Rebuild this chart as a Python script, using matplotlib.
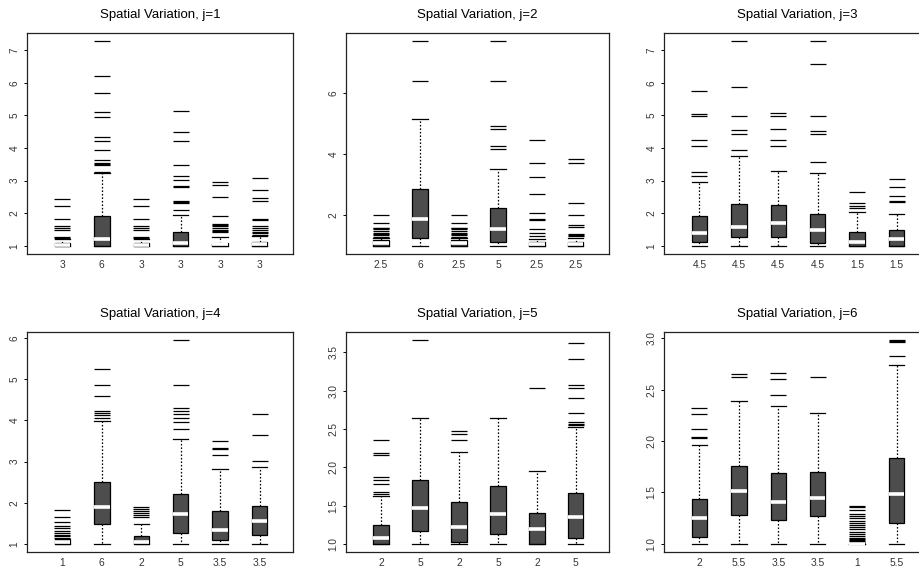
import matplotlib
matplotlib.use('Agg')
import matplotlib.pyplot as plt

plt.rcParams['font.family'] = ['Liberation Sans', 'DejaVu Sans']

# ---- data (one row per panel, one entry per box) ----
titles = ['Spatial Variation, j=%d' % j for j in range(1, 7)]

box_labels = [
    ['3', '6', '3', '3', '3', '3'],
    ['2.5', '6', '2.5', '5', '2.5', '2.5'],
    ['4.5', '4.5', '4.5', '4.5', '1.5', '1.5'],
    ['1', '6', '2', '5', '3.5', '3.5'],
    ['2', '5', '2', '5', '2', '5'],
    ['2', '5.5', '3.5', '3.5', '1', '5.5'],
]

whis_lo = [[1.0] * 6 for _ in range(6)]

q1 = [
    [1.0, 1.0, 1.0, 1.0, 1.0, 1.0],
    [1.0, 1.25, 1.0, 1.13, 1.0, 1.0],
    [1.11, 1.27, 1.27, 1.1, 1.0, 1.0],
    [1.0, 1.48, 1.0, 1.26, 1.1, 1.22],
    [1.0, 1.17, 1.03, 1.13, 1.0, 1.08],
    [1.07, 1.28, 1.23, 1.27, 1.0, 1.2],
]

med = [
    [1.04, 1.2, 1.04, 1.08, 1.05, 1.05],
    [1.1, 1.88, 1.1, 1.54, 1.05, 1.05],
    [1.4, 1.59, 1.71, 1.5, 1.11, 1.2],
    [1.05, 1.9, 1.04, 1.73, 1.33, 1.56],
    [1.08, 1.47, 1.22, 1.39, 1.19, 1.35],
    [1.25, 1.51, 1.41, 1.45, 1.0, 1.48],
]

q3 = [
    [1.1, 1.92, 1.1, 1.41, 1.1, 1.12],
    [1.2, 2.85, 1.2, 2.23, 1.12, 1.12],
    [1.91, 2.29, 2.26, 1.99, 1.43, 1.49],
    [1.1, 2.51, 1.2, 2.21, 1.79, 1.92],
    [1.25, 1.84, 1.54, 1.76, 1.4, 1.67],
    [1.44, 1.76, 1.69, 1.70, 1.0, 1.83],
]

whis_hi = [
    [1.22, 3.23, 1.22, 1.94, 1.26, 1.29],
    [1.25, 5.15, 1.25, 3.52, 1.22, 1.25],
    [2.96, 3.77, 3.31, 3.25, 2.03, 1.99],
    [1.12, 3.98, 1.49, 3.54, 2.81, 2.86],
    [1.63, 2.64, 2.2, 2.64, 1.95, 2.52],
    [1.96, 2.39, 2.34, 2.27, 1.0, 2.74],
]

outliers = [
    [[1.25, 1.27, 1.49, 1.55, 1.61, 1.82, 2.22, 2.45],
     [3.28, 3.47, 3.5, 3.53, 3.64, 3.93, 4.21, 4.34, 4.95, 5.1, 5.68, 6.2, 7.28],
     [1.25, 1.27, 1.49, 1.55, 1.61, 1.82, 2.22, 2.45],
     [2.09, 2.3, 2.33, 2.37, 2.8, 2.83, 3.03, 3.15, 3.48, 4.21, 4.48, 5.14],
     [1.42, 1.45, 1.5, 1.55, 1.6, 1.65, 1.68, 1.9, 2.49, 2.86, 2.97],
     [1.33, 1.38, 1.42, 1.5, 1.55, 1.6, 1.8, 1.82, 2.37, 2.47, 2.7, 3.09]],
    [[1.3, 1.34, 1.38, 1.43, 1.5, 1.55, 1.57, 1.6, 1.74, 2.0],
     [6.39, 7.71],
     [1.3, 1.34, 1.38, 1.43, 1.5, 1.55, 1.57, 1.6, 1.74, 2.0],
     [4.19, 4.28, 4.83, 4.94, 6.39, 7.71],
     [1.33, 1.41, 1.56, 1.85, 1.89, 2.07, 2.69, 3.27, 3.73, 4.47],
     [1.32, 1.36, 1.39, 1.63, 1.68, 2.0, 2.42, 3.7, 3.84]],
    [[3.15, 3.28, 4.05, 4.24, 4.97, 5.06, 5.75],
     [3.95, 4.44, 4.54, 4.99, 5.86, 7.28],
     [4.05, 4.24, 4.6, 4.99, 5.07],
     [3.58, 4.44, 4.52, 4.99, 6.58, 7.28],
     [2.15, 2.23, 2.31, 2.65],
     [2.34, 2.37, 2.53, 2.82, 3.06]],
    [[1.14, 1.18, 1.22, 1.27, 1.31, 1.38, 1.43, 1.52, 1.66, 1.83],
     [4.06, 4.14, 4.19, 4.23, 4.6, 4.85, 5.25],
     [1.66, 1.71, 1.76, 1.81, 1.85, 1.89],
     [3.8, 3.96, 4.06, 4.15, 4.22, 4.3, 4.85, 5.95],
     [3.17, 3.31, 3.34, 3.49],
     [3.02, 3.64, 4.15]],
    [[1.65, 1.68, 1.78, 1.83, 1.87, 2.16, 2.18, 2.36],
     [3.66],
     [2.36, 2.44, 2.47],
     [],
     [3.03],
     [2.55, 2.57, 2.59, 2.71, 2.91, 3.03, 3.08, 3.42, 3.62]],
    [[2.03, 2.04, 2.12, 2.26, 2.32],
     [2.62, 2.65],
     [2.45, 2.6, 2.66],
     [2.62],
     [1.01, 1.02, 1.03, 1.04, 1.05, 1.06, 1.08, 1.1, 1.12, 1.14, 1.16,
      1.18, 1.2, 1.22, 1.25, 1.27, 1.29, 1.33, 1.36, 1.37],
     [2.83, 2.96, 2.97, 2.98]],
]

y_ticks = [
    [1, 2, 3, 4, 5, 6, 7],
    [2, 4, 6],
    [1, 2, 3, 4, 5, 6, 7],
    [1, 2, 3, 4, 5, 6],
    [1.0, 1.5, 2.0, 2.5, 3.0, 3.5],
    [1.0, 1.5, 2.0, 2.5, 3.0],
]

# axes rectangles in pixels (left, top, right, bottom) of a 920x569 figure
W, H = 920, 569
cols = [(27, 293), (346, 609), (664, 930)]
rows = [(33, 254), (332, 552)]

BOX_FILL = '#4d4d4d'
BW = 0.39

fig = plt.figure(figsize=(W / 100, H / 100), dpi=100)
fig.patch.set_facecolor('white')

for k in range(6):
    r, c = divmod(k, 3)
    x0, x1 = cols[c]
    y0, y1 = rows[r]
    ax = fig.add_axes([x0 / W, 1 - y1 / H, (x1 - x0) / W, (y1 - y0) / H])

    stats = []
    for b in range(6):
        stats.append({
            'whislo': whis_lo[k][b], 'q1': q1[k][b], 'med': med[k][b],
            'q3': q3[k][b], 'whishi': whis_hi[k][b], 'fliers': outliers[k][b],
            'label': box_labels[k][b],
        })

    ax.set_ymargin(0.04)
    ax.bxp(stats, positions=range(1, 7), widths=BW, capwidths=BW,
           patch_artist=True, showfliers=True,
           boxprops=dict(facecolor=BOX_FILL, edgecolor='black', linewidth=0.9),
           medianprops=dict(color='white', linewidth=2.6, solid_capstyle='butt'),
           whiskerprops=dict(color='black', linewidth=0.9, linestyle=(0, (1.3, 1.5))),
           capprops=dict(color='black', linewidth=0.9),
           flierprops=dict(marker='_', markersize=11, markeredgewidth=0.9,
                           markeredgecolor='black'))

    ax.set_xlim(0.1, 6.85)
    yt = y_ticks[k]
    if k < 4:
        lab = ['%d' % t for t in yt]
    else:
        lab = ['%.1f' % t for t in yt]
    ax.set_yticks(yt, lab)
    ax.tick_params(axis='y', length=2.5, width=0.7, pad=3, labelsize=7.2,
                   labelrotation=90, labelcolor='#333333')
    for t in ax.get_yticklabels():
        t.set_va('center')
    ax.tick_params(axis='x', length=0, pad=4.5, labelsize=7.4,
                   labelcolor='#333333')
    for s in ax.spines.values():
        s.set_linewidth(0.9)
        s.set_color('#222222')
    ax.set_title(titles[k], fontsize=9.5, pad=11)

fig.savefig('out.png', dpi=100)
